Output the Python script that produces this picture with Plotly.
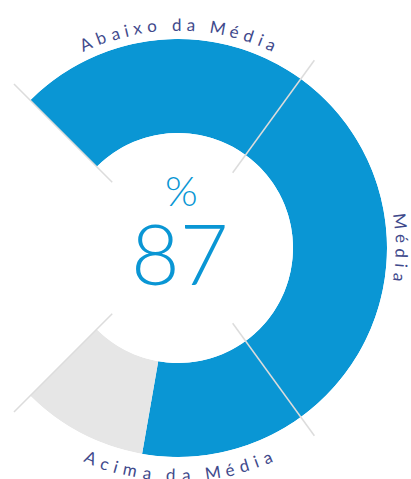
import math
import plotly.graph_objects as go

# ---------------- data ----------------
value = 87
max_value = 100
thresholds = [0, 30, 70, 100]             # band limits in % of the scale
categories = ["Abaixo da Média", "Média", "Acima da Média"]
category_centers = [0, 90, 180]          # compass degrees of each label
value_label = "87"
unit_label = "%"

# ---------------- style / layout ----------------
W, H = 411, 479
CX, CY = 178, 248          # gauge centre in px
R_OUT, R_IN = 209, 115     # ring radii in px
START, SPAN = -45, 270     # compass start angle & total sweep
BLUE = "#0A96D4"
GREY = "#E6E6E6"
NAVY = "#3F4A8C"
LINE = "#DCDCDC"
LABEL_FONT = "Lato"
LABEL_SIZE = 17
LETTER_SP = 5.5
LABEL_RADII = [224, 224, 227]

def px_to_paper(x, y):
    return x / W, 1 - y / H

def polar_px(r, a):
    t = math.radians(a)
    return CX + r * math.sin(t), CY - r * math.cos(t)

fill = SPAN * value / max_value
rest = SPAN - fill

fig = go.Figure()
fig.add_trace(go.Barpolar(
    r=[1, 1], base=[0, 0],
    theta=[START + fill / 2, START + fill + rest / 2],
    width=[fill, rest],
    marker=dict(color=[BLUE, GREY], line=dict(width=0)),
    hoverinfo="skip",
))

k = math.cos(math.radians(45))
dx0, dy1 = px_to_paper(CX - R_OUT * k, CY - R_OUT)
dx1, dy0 = px_to_paper(CX + R_OUT, CY + R_OUT)

fig.update_layout(
    width=W, height=H, autosize=False,
    margin=dict(l=0, r=0, t=0, b=0),
    paper_bgcolor="white",
    showlegend=False,
    polar=dict(
        domain=dict(x=[dx0, dx1], y=[dy0, dy1]),
        sector=[-135, 135],
        hole=R_IN / R_OUT,
        bgcolor="rgba(0,0,0,0)",
        radialaxis=dict(range=[0, 1], visible=False),
        angularaxis=dict(rotation=90, direction="clockwise", showgrid=False,
                         showline=False, showticklabels=False, ticks=""),
    ),
)

# boundary lines
for t in thresholds:
    a = START + SPAN * t / max_value
    x1, y1 = px_to_paper(*polar_px(93, a))
    x2, y2 = px_to_paper(*polar_px(232, a))
    fig.add_shape(type="line", xref="paper", yref="paper", x0=x1, y0=y1, x1=x2, y1=y2,
                  line=dict(color=LINE, width=1.5), layer="above")

# approximate glyph widths (em)
GW = {"A": .68, "b": .56, "a": .50, "i": .24, "x": .50, "o": .56, " ": .26, "d": .56,
      "M": .86, "é": .52, "e": .52, "c": .47, "m": .84}

def curved(text, center, radius, bottom=False):
    widths = [GW.get(c, .55) * LABEL_SIZE for c in text]
    adv = [w + LETTER_SP for w in widths]
    total = sum(adv) - LETTER_SP
    pos = -total / 2
    for c, w, ad in zip(text, widths, adv):
        mid = pos + w / 2
        dang = math.degrees(mid / radius)
        if bottom:
            a = center - dang
            rot = a - 180
        else:
            a = center + dang
            rot = a
        pos += ad
        if c == " ":
            continue
        x, y = px_to_paper(*polar_px(radius, a))
        fig.add_annotation(x=x, y=y, xref="paper", yref="paper", text=c, showarrow=False,
                           textangle=rot, xanchor="center", yanchor="middle",
                           font=dict(family=LABEL_FONT, size=LABEL_SIZE, color=NAVY))

for txt, ctr, rad in zip(categories, category_centers, LABEL_RADII):
    curved(txt, ctr, rad, bottom=(ctr == 180))

x, y = px_to_paper(181, 190)
fig.add_annotation(x=x, y=y, xref="paper", yref="paper", text=unit_label, showarrow=False,
                   xanchor="center", yanchor="middle",
                   font=dict(family="Lato", size=42, color=BLUE, weight=300))
x, y = px_to_paper(179, 252)
fig.add_annotation(x=x, y=y, xref="paper", yref="paper", text=value_label, showarrow=False,
                   xanchor="center", yanchor="middle",
                   font=dict(family="Lato", size=84, color=BLUE, weight=300))

fig.write_html("out.html", config={"displayModeBar": False},
               post_script="document.body.style.margin='0';")
